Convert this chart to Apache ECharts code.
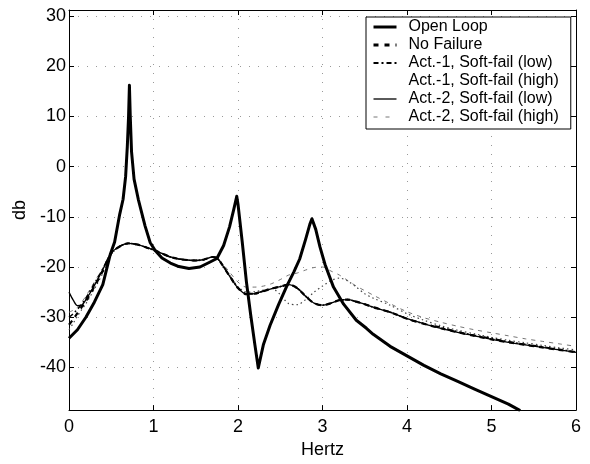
<!DOCTYPE html>
<html><head><meta charset="utf-8">
<script src="https://cdn.jsdelivr.net/npm/echarts@6/dist/echarts.min.js"></script>
<style>html,body{margin:0;padding:0;background:#fff}#c{width:590px;height:464px}</style>
</head><body><div id="c"></div><script>
const seriesNames = ['Open Loop','No Failure','Act.-1, Soft-fail (low)','Act.-1, Soft-fail (high)','Act.-2, Soft-fail (low)','Act.-2, Soft-fail (high)'];
const xTicks = [0,1,2,3,4,5,6];

const openX = [0,0.1,0.2,0.3,0.4,0.49,0.54,0.6,0.64,0.67,0.69,0.705,0.715,0.725,0.74,0.77,0.82,0.9,0.96,1.02,1.1,1.2,1.3,1.42,1.55,1.67,1.75,1.83,1.9,1.95,1.985,2.0,2.05,2.1,2.15,2.2,2.24,2.3,2.38,2.48,2.58,2.66,2.73,2.8,2.85,2.875,2.92,2.97,3.03,3.13,3.25,3.4,3.52,3.6,3.8,4.0,4.2,4.4,4.6,4.8,5.0,5.2,5.34];
const openLoop = [-34.2,-32.5,-30.0,-27.0,-23.5,-17.4,-15.0,-9.5,-6.5,-2.0,4.0,10.0,16.2,10.0,3.0,-2.5,-6.5,-11.8,-15.1,-16.7,-18.2,-19.2,-19.9,-20.3,-20.0,-19.0,-18.3,-15.7,-12.0,-8.5,-5.9,-7.5,-15.0,-23.0,-29.5,-35.5,-40.1,-35.5,-31.6,-27.5,-23.7,-21.0,-18.4,-14.5,-11.5,-10.4,-12.5,-16.0,-19.5,-24.0,-27.4,-30.6,-32.2,-33.4,-35.8,-37.7,-39.6,-41.3,-42.8,-44.3,-45.8,-47.3,-48.6];

const closedX = [0,0.05,0.1,0.15,0.2,0.3,0.4,0.5,0.6,0.7,0.8,0.9,1.0,1.1,1.2,1.3,1.4,1.5,1.6,1.7,1.75,1.8,1.9,2.0,2.1,2.2,2.3,2.4,2.5,2.6,2.7,2.8,2.9,3.0,3.1,3.2,3.3,3.4,3.5,3.6,3.8,4.0,4.2,4.4,4.6,4.8,5.0,5.2,5.4,5.6,5.8,6.0];
const noFailure = [-31.5,-30.4,-29.2,-28.0,-26.8,-23.9,-20.8,-17.3,-15.9,-15.3,-15.5,-16.0,-16.6,-17.3,-18.0,-18.4,-18.6,-18.7,-18.5,-18.0,-18.2,-19.2,-21.8,-24.2,-25.4,-25.3,-24.8,-24.3,-23.9,-23.5,-24.2,-25.8,-27.2,-27.6,-27.2,-26.6,-26.5,-26.9,-27.4,-28.0,-29.0,-30.3,-31.3,-32.2,-33.0,-33.7,-34.4,-35.0,-35.5,-36.0,-36.5,-37.0];
const act1Low = [-30.0,-29.3,-28.4,-27.4,-26.2,-23.3,-20.4,-17.2,-15.9,-15.3,-15.5,-16.0,-16.6,-17.3,-18.0,-18.4,-18.6,-18.7,-18.5,-18.0,-18.2,-19.2,-21.7,-24.1,-25.3,-25.3,-24.8,-24.3,-23.9,-23.5,-24.2,-25.8,-27.2,-27.6,-27.2,-26.6,-26.5,-26.9,-27.4,-28.0,-29.0,-30.3,-31.3,-32.0,-32.9,-33.6,-34.2,-34.9,-35.4,-35.9,-36.4,-36.9];
const act1High = [-32.5,-31.2,-29.8,-28.5,-27.3,-24.4,-21.2,-17.5,-15.9,-15.3,-15.5,-16.0,-16.6,-17.3,-18.0,-18.4,-18.6,-18.7,-18.5,-18.0,-18.2,-19.2,-21.6,-23.9,-25.0,-24.9,-24.6,-24.3,-25.5,-27.3,-27.5,-26.5,-25.0,-23.8,-22.7,-22.2,-22.8,-24.0,-25.3,-26.2,-27.6,-29.3,-30.6,-31.7,-32.6,-33.3,-34.0,-34.6,-35.1,-35.6,-36.1,-36.5];
const act2Low = [-25.0,-26.6,-27.7,-27.6,-26.5,-23.7,-20.5,-17.2,-15.9,-15.3,-15.5,-16.0,-16.6,-17.3,-18.0,-18.4,-18.6,-18.7,-18.5,-18.0,-18.2,-19.2,-21.8,-24.2,-25.4,-25.3,-24.8,-24.3,-23.9,-23.5,-24.2,-25.8,-27.2,-27.6,-27.2,-26.6,-26.5,-26.9,-27.4,-28.0,-29.0,-30.3,-31.3,-32.2,-33.0,-33.7,-34.4,-35.0,-35.5,-36.0,-36.5,-37.0];
const act2High = [-29.0,-28.6,-28.0,-27.0,-25.8,-23.0,-20.2,-17.0,-15.9,-15.3,-15.5,-16.0,-16.6,-17.3,-18.0,-18.4,-18.6,-18.7,-18.5,-18.0,-18.2,-19.0,-21.0,-23.0,-24.0,-24.0,-23.8,-23.3,-22.5,-21.6,-21.2,-20.6,-20.1,-20.0,-20.8,-21.6,-22.7,-23.8,-24.7,-25.6,-27.3,-28.9,-30.1,-31.0,-31.8,-32.5,-33.1,-33.7,-34.3,-34.8,-35.3,-35.8];

const FONT = "'Liberation Sans', Arial, Helvetica, sans-serif";
const pair = (xs, ys) => xs.map((x, i) => [x, ys[i]]);

const chart = echarts.init(document.getElementById('c'), null, {renderer: 'canvas'});
const baseAxis = {
  type: 'value',
  axisLine: {show: true, onZero: false, lineStyle: {color: '#000', width: 1}},
  axisTick: {show: true, inside: true, length: 5, lineStyle: {color: '#000'}},
};
const gridLine = {show: true, lineStyle: {color: '#999', type: [1, 8], width: 1}};
chart.setOption({
  animation: false,
  backgroundColor: '#fff',
  color: ['#000'],
  grid: {left: 69, right: 14, top: 10, bottom: 51, containLabel: false},
  legend: {
    orient: 'vertical', left: 366, top: 17,
    data: [
      {name: seriesNames[0], lineStyle: {width: 3, type: 'solid'}},
      {name: seriesNames[1], lineStyle: {width: 3, type: [5, 6]}},
      {name: seriesNames[2], lineStyle: {width: 2, type: [5, 3, 2, 3]}},
      {name: seriesNames[3], lineStyle: {opacity: 0}},
      {name: seriesNames[4], lineStyle: {width: 1.3}},
      {name: seriesNames[5], lineStyle: {width: 1, type: [4, 8]}}
    ],
    itemWidth: 23, itemHeight: 12, itemGap: 2,
    itemStyle: {opacity: 0},
    padding: [2, 12, 4, 6],
    borderColor: '#000', borderWidth: 1, backgroundColor: '#fff',
    textStyle: {fontFamily: FONT, fontSize: 16, color: '#000', padding: [0, 0, 0, 7]},
    selectedMode: false
  },
  xAxis: [
    Object.assign({}, baseAxis, {
      min: 0, max: 6, interval: 1, position: 'bottom',
      axisLabel: {fontFamily: FONT, fontSize: 18, color: '#000', margin: 8},
      splitLine: gridLine,
      name: 'Hertz', nameLocation: 'middle', nameGap: 23,
      nameTextStyle: {fontFamily: FONT, fontSize: 18, color: '#000'}
    }),
    Object.assign({}, baseAxis, {
      min: 0, max: 6, interval: 1, position: 'top',
      axisLabel: {show: false}, splitLine: {show: false}
    })
  ],
  yAxis: [
    Object.assign({}, baseAxis, {
      min: -48.5, max: 31.2, splitNumber: 8, position: 'left',
      axisLabel: {fontFamily: FONT, fontSize: 18, color: '#000', margin: 3,
        showMinLabel: false, showMaxLabel: false,
        formatter: v => (Math.abs(v % 10) < 1e-6 ? String(v) : '')},
      splitLine: gridLine,
      name: 'db', nameLocation: 'middle', nameGap: 38, nameRotate: 90,
      nameTextStyle: {fontFamily: FONT, fontSize: 18, color: '#000'}
    }),
    Object.assign({}, baseAxis, {
      min: -48.5, max: 31.2, splitNumber: 8, position: 'right',
      axisLabel: {show: false}, splitLine: {show: false}
    })
  ],
  series: [
    {name: seriesNames[5], type: 'line', symbol: 'none', smooth: 0.3, z: 2, color: '#777',
     data: pair(closedX, act2High), lineStyle: {color: '#777', width: 1, type: [4, 5]}},
    {name: seriesNames[3], type: 'line', symbol: 'none', smooth: 0.3, z: 2, color: '#444',
     data: pair(closedX, act1High), lineStyle: {color: '#444', width: 1.2, type: [1.5, 3]}},
    {name: seriesNames[4], type: 'line', symbol: 'none', smooth: 0.3, z: 3, color: '#000',
     data: pair(closedX, act2Low), lineStyle: {color: '#000', width: 1.3, type: 'solid'}},
    {name: seriesNames[2], type: 'line', symbol: 'none', smooth: 0.3, z: 3, color: '#000',
     data: pair(closedX, act1Low), lineStyle: {color: '#000', width: 1.6, type: [5, 3, 1.5, 3]}},
    {name: seriesNames[1], type: 'line', symbol: 'none', smooth: 0.3, z: 4, color: '#000',
     data: pair(closedX, noFailure), lineStyle: {color: '#000', width: 2.2, type: [5, 5]}},
    {name: seriesNames[0], type: 'line', symbol: 'none', smooth: false, z: 5, color: '#000',
     data: pair(openX, openLoop), lineStyle: {color: '#000', width: 3, join: 'round'}}
  ]
});
</script></body></html>
